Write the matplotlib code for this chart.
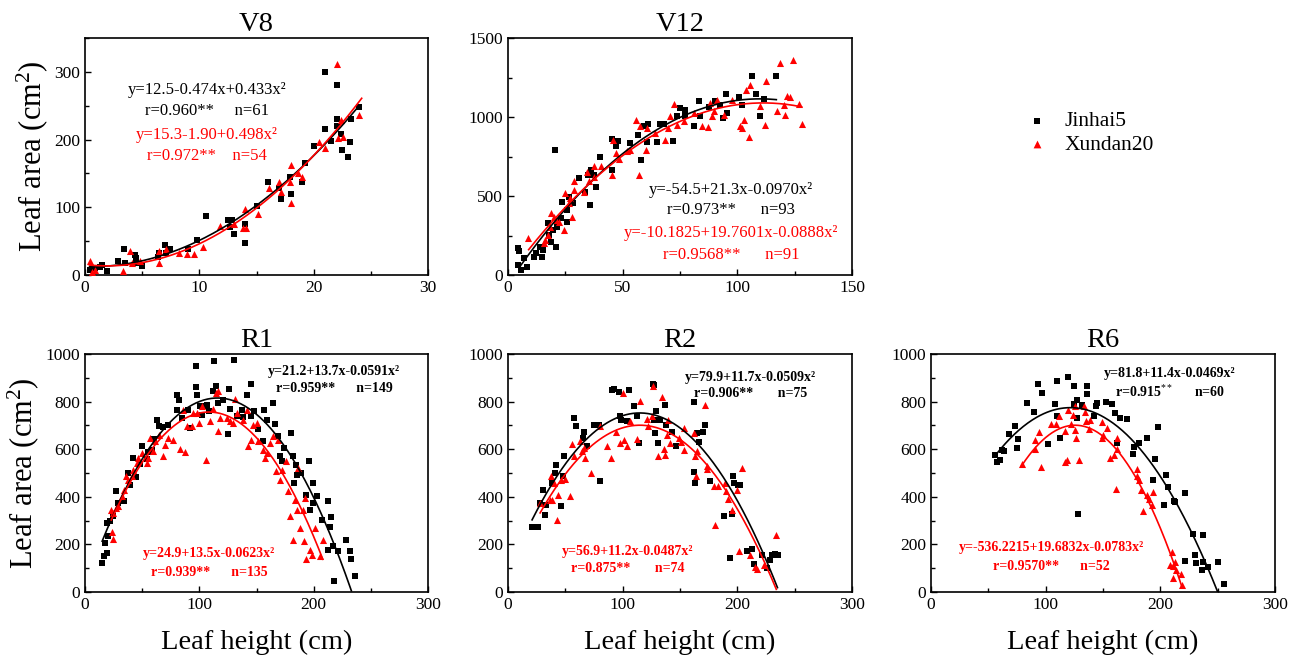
import matplotlib

matplotlib.use("Agg")
import matplotlib.pyplot as plt
import numpy as np
from matplotlib.ticker import MultipleLocator

plt.rcParams["font.family"] = ["Liberation Serif", "DejaVu Serif"]
plt.rcParams["mathtext.fontset"] = "custom"
plt.rcParams["mathtext.rm"] = "Liberation Serif"
plt.rcParams["mathtext.it"] = "Liberation Serif:italic"
plt.rcParams["mathtext.bf"] = "Liberation Serif:bold"

# ---- V8 (leaf height in cm, leaf area in cm2) ----
v8_jin_x = [0.4, 0.9, 1.3, 1.5, 1.9, 2.9, 3.4, 3.5, 4.4, 4.5, 4.5, 5.0, 6.4, 6.5, 7.0, 7.1,
            7.4, 9.0, 9.8, 10.6, 12.5, 12.7, 12.9, 13.0, 14.0, 14.0, 15.0, 16.0, 17.0, 17.1,
            17.9, 18.0, 19.0, 19.2, 20.0, 21.0, 21.0, 21.5, 22.0, 22.0, 22.0, 22.4, 22.5,
            23.0, 23.2, 23.3, 24.0]
v8_jin_y = [7, 10, 12, 15, 6, 20, 39, 17, 30, 25, 17, 14, 27, 32, 44, 32,
            39, 39, 52, 87, 81, 71, 81, 61, 76, 47, 102, 138, 128, 112,
            145, 120, 137, 166, 191, 300, 216, 198, 231, 220, 280, 208, 185,
            175, 197, 231, 248]
v8_xun_x = [0.4, 0.6, 0.9, 3.3, 3.9, 4.1, 4.8, 6.5, 6.5, 7.1, 8.2, 8.9, 9.5, 10.3, 11.8,
            13.0, 13.8, 14.0, 14.1, 15.1, 16.1, 17.0, 17.1, 18.0, 17.9, 18.0, 18.6, 19.0,
            20.5, 21.0, 22.0, 22.1, 22.4, 22.6, 24.0]
v8_xun_y = [20, 5, 8, 6, 36, 17, 21, 36, 17, 39, 32, 31, 31, 41, 73,
            75, 70, 97, 69, 90, 128, 138, 123, 163, 138, 106, 150, 145,
            197, 187, 311, 203, 229, 204, 236]

# ---- V12 ----
v12_jin_x = [4.2, 4.4, 4.7, 5.7, 6.8, 8.3, 11.2, 12.4, 14.1, 14.8, 15.3, 17.3, 18.0, 18.8,
             19.5, 20.3, 20.9, 21.4, 23.1, 23.5, 25.7, 25.7, 26.5, 28.2, 30.8, 33.7, 34.7,
             35.9, 36.2, 37.4, 38.5, 40.0, 45.3, 45.3, 47.2, 47.9, 53.0, 56.5, 58.0, 59.2,
             60.6, 60.9, 65.0, 66.4, 67.9, 71.9, 73.7, 74.8, 77.3, 77.3, 81.0, 83.1, 83.6,
             87.5, 90.4, 92.6, 93.8, 95.2, 95.5, 100.6, 102.0, 106.4, 108.3, 109.7, 111.5,
             117.0]
v12_jin_y = [63, 169, 154, 32, 106, 53, 116, 137, 180, 116, 158, 332, 254, 211,
             285, 792, 180, 306, 359, 465, 338, 412, 496, 454, 613, 528, 634,
             444, 666, 634, 560, 744, 666, 860, 818, 849, 835, 888, 729, 944,
             839, 957, 839, 957, 957, 851, 1004, 1056, 1046, 1004, 940, 1099, 1004,
             1063, 1099, 1078, 993, 1145, 1025, 1126, 1078, 1261, 1147, 1004, 1113,
             1257]
v12_xun_x = [8.6, 15.6, 16.3, 17.3, 18.2, 18.8, 19.9, 21.1, 22.1, 24.3, 25.0, 26.5, 27.2,
             27.9, 28.6, 28.9, 33.0, 34.4, 35.2, 37.4, 37.6, 40.7, 45.3, 45.8, 47.2, 48.3,
             51.9, 53.0, 55.8, 57.3, 57.7, 60.3, 60.6, 64.2, 68.6, 69.6, 70.8, 72.2, 73.7,
             76.6, 81.0, 84.6, 87.1, 88.2, 88.9, 89.7, 91.1, 94.0, 97.7, 101.3, 102.0,
             102.8, 103.9, 104.9, 105.4, 110.0, 112.2, 112.6, 117.3, 118.5, 120.5, 120.9,
             121.7, 122.8, 124.3, 126.7, 128.2]
v12_xun_y = [232, 201, 222, 254, 306, 391, 370, 349, 338, 285, 518, 454, 486,
             370, 592, 539, 528, 655, 592, 687, 623, 687, 634, 856, 771, 733,
             782, 792, 978, 634, 940, 792, 930, 898, 856, 930, 1004, 1084, 951,
             972, 1025, 944, 936, 1088, 1004, 1035, 1109, 1014, 1105, 940, 930,
             982, 1173, 873, 1204, 1067, 951, 1225, 1035, 1342, 1078, 1014,
             1130, 1126, 1359, 1084, 957]

# ---- R1 ----
r1_jin_x = [14.6, 16.6, 19.5, 17.5, 18.9, 20.4, 21.8, 24.8, 27.1, 29.1, 34.1, 37.9, 39.3,
            42.2, 44.6, 48.1, 49.5, 53.9, 55.3, 58.3, 60.3, 62.6, 64.9, 68.5, 72.8, 80.1,
            80.7, 82.4, 84.5, 90.3, 91.8, 96.7, 97.0, 98.2, 100.5, 101.9, 104.0, 106.3,
            108.4, 112.1, 112.7, 114.5, 116.5, 120.3, 125.3, 126.1, 126.7, 130.2, 133.1,
            136.9, 141.9, 137.8, 144.8, 145.6, 147.7, 151.5, 155.8, 156.7, 158.8, 164.0,
            166.0, 169.0, 170.4, 171.9, 173.9, 180.6, 182.0, 182.6, 184.4, 185.8, 189.3,
            193.1, 196.0, 197.2, 199.5, 199.5, 203.0, 207.7, 212.6, 214.7, 215.0, 212.6,
            217.0, 217.6, 221.4, 228.7, 232.2, 232.5, 235.9]
r1_jin_y = [122, 153, 164, 206, 290, 234, 297, 318, 423, 374, 381, 500, 451,
            563, 483, 539, 612, 559, 587, 598, 643, 724, 696, 693, 703, 766,
            829, 808, 731, 766, 689, 860, 948, 828, 780, 745, 780, 787,
            759, 843, 969, 867, 794, 808, 665, 854, 769, 976, 738,
            766, 829, 735, 738, 875, 759, 685, 636, 766, 724, 794,
            707, 657, 570, 549, 605, 668, 570, 458, 535, 493, 500,
            409, 549, 346, 458, 374, 405, 301, 381, 273, 315, 178,
            192, 45, 171, 217, 172, 139, 66]
r1_xun_x = [23.3, 24.8, 22.7, 24.8, 27.1, 29.1, 32.0, 34.1, 35.8, 37.9, 40.8, 42.2, 45.1,
            46.6, 49.5, 53.9, 55.3, 56.8, 59.7, 61.2, 64.9, 67.9, 69.9, 72.8, 77.1, 83.0,
            87.4, 85.3, 89.3, 93.2, 94.7, 98.2, 99.9, 101.9, 105.7, 109.2, 111.6, 115.0,
            116.5, 116.5, 117.9, 123.8, 126.7, 129.6, 131.1, 133.1, 138.4, 141.3, 142.7,
            144.8, 147.1, 150.0, 151.5, 155.8, 157.3, 158.8, 161.7, 164.6, 166.9, 169.0,
            170.4, 171.9, 175.6, 177.7, 179.1, 181.5, 183.5, 185.0, 186.4, 187.9, 190.8,
            191.4, 192.2, 193.1, 197.2, 198.9, 201.0, 205.4, 208.2]
r1_xun_y = [251, 223, 346, 332, 353, 360, 402, 430, 486, 472, 486, 514, 542,
            563, 584, 542, 563, 647, 591, 633, 661, 573, 619, 647, 640, 601,
            587, 766, 696, 696, 752, 752, 710, 780, 556, 717, 769, 836,
            843, 675, 731, 731, 717, 710, 811, 752, 724, 766, 612,
            640, 703, 710, 633, 598, 563, 584, 626, 654, 507, 640,
            472, 514, 549, 423, 318, 220, 388, 346, 521, 269, 346,
            213, 395, 139, 178, 157, 269, 150, 220]

# ---- R2 ----
r2_jin_x = [20.9, 26.2, 27.6, 30.5, 32.6, 33.4, 38.4, 41.3, 42.2, 46.5, 48.0, 48.5, 57.8,
            59.6, 65.4, 66.6, 68.9, 74.7, 79.1, 79.9, 90.7, 92.2, 96.5, 98.0, 98.5, 103.8,
            105.8, 109.6, 112.5, 113.9, 126.2, 127.0, 127.6, 128.5, 129.4, 130.8, 132.3,
            136.6, 138.1, 142.7, 146.8, 162.0, 162.5, 162.8, 164.8, 166.3, 170.0, 172.1,
            176.5, 188.0, 193.3, 195.3, 196.2, 197.4, 200.3, 202.6, 208.4, 212.8, 214.2,
            221.5, 225.9, 228.8, 230.2, 233.1, 235.2]
r2_jin_y = [273, 273, 374, 430, 325, 367, 458, 500, 535, 360, 486, 570, 731,
            696, 647, 671, 612, 703, 703, 465, 850, 853, 839, 738, 724, 717,
            847, 780, 738, 626, 875, 871, 724, 668, 759, 626, 724,
            787, 703, 671, 612, 797, 504, 458, 668, 629, 671, 703,
            468, 318, 143, 329, 486, 458, 451, 451, 171, 181, 119,
            157, 101, 136, 157, 160, 157]
r2_xun_x = [28.2, 36.3, 37.8, 38.4, 40.4, 42.7, 43.6, 46.2, 50.0, 53.8, 55.8, 57.8, 62.5,
            64.5, 66.0, 66.9, 72.4, 80.2, 86.3, 89.9, 94.1, 100.0, 98.0, 101.0, 103.8,
            106.7, 112.5, 114.8, 121.2, 121.8, 125.6, 126.5, 130.8, 134.3, 135.8, 137.2,
            138.7, 139.2, 141.6, 148.8, 150.9, 153.2, 153.8, 162.0, 163.4, 164.2, 164.8,
            172.1, 173.8, 173.8, 179.4, 180.8, 182.8, 189.5, 190.4, 191.6, 195.3, 199.7,
            201.2, 204.1, 210.8, 215.7, 217.2, 223.0, 234.0]
r2_xun_y = [374, 388, 489, 388, 458, 301, 409, 472, 475, 405, 623, 570, 633,
            591, 605, 563, 500, 696, 612, 563, 671, 836, 626, 637, 615,
            717, 643, 801, 727, 696, 738, 867, 570, 819, 601, 577,
            661, 721, 626, 647, 629, 595, 689, 668, 570, 489, 591,
            787, 531, 517, 444, 283, 444, 458, 423, 391, 343, 427,
            171, 521, 157, 105, 97, 115, 241]

# ---- R6 ----
r6_jin_x = [56.1, 57.5, 59.8, 61.9, 63.3, 67.7, 73.5, 75.0, 75.6, 83.6, 89.5, 92.9, 96.7,
            101.7, 108.3, 109.8, 109.8, 112.7, 119.1, 124.3, 124.9, 127.2, 127.2, 127.8,
            131.7, 135.9, 135.9, 142.3, 144.1, 145.2, 152.8, 157.7, 160.6, 162.1, 164.4,
            170.8, 176.0, 176.6, 181.8, 188.8, 193.4, 195.5, 198.4, 205.0, 203.3, 207.1,
            212.0, 212.9, 221.6, 221.6, 228.3, 230.3, 231.2, 237.6, 237.6, 236.1, 242.0,
            250.7, 255.6]
r6_jin_y = [574, 545, 553, 595, 591, 665, 696, 606, 643, 794, 756, 875, 836,
            623, 791, 885, 738, 647, 902, 867, 790, 808, 731, 328,
            787, 864, 833, 741, 780, 794, 798, 790, 752, 626, 731,
            727, 581, 608, 626, 647, 469, 559, 693, 493, 367, 441,
            381, 377, 416, 129, 245, 157, 122, 241, 125, 91, 105,
            125, 35]
r6_xun_x = [79.3, 91.0, 91.0, 93.8, 95.7, 104.6, 109.2, 111.2, 117.0, 118.5, 117.0, 119.9,
            121.9, 123.6, 125.7, 125.7, 126.5, 129.5, 133.6, 134.4, 135.3, 137.4, 138.8,
            148.9, 148.9, 149.9, 153.4, 155.7, 159.2, 161.5, 162.6, 162.6, 179.5, 179.5,
            181.0, 182.9, 184.7, 188.8, 190.5, 192.6, 193.4, 210.0, 208.5, 211.4, 210.8,
            213.8, 217.8, 218.7, 213.0]
r6_xun_y = [539, 601, 640, 671, 525, 706, 706, 741, 545, 556, 675, 766,
            707, 745, 780, 679, 647, 553, 780, 755, 717, 685, 721,
            713, 647, 661, 689, 563, 577, 433, 647, 601, 517, 486,
            472, 427, 339, 409, 391, 367, 419, 167, 115, 108, 59,
            94, 77, 31, 125]

# fitted quadratics (a, b, c) and x range of each drawn curve
panels = [
    dict(name="V8", jx=v8_jin_x, jy=v8_jin_y, rx=v8_xun_x, ry=v8_xun_y,
         jfit=(12.5, -0.474, 0.433), jrange=(0.4, 24.0),
         rfit=(15.3, -1.90, 0.498), rrange=(0.4, 24.2),
         xlim=(0, 30), ylim=(0, 350), xmaj=10, xmin=5, ymaj=100, ymin=50,
         jtxt=["y=12.5-0.474x+0.433x²", "r=0.960**     n=61"],
         rtxt=["y=15.3-1.90+0.498x²", "r=0.972**    n=54"],
         jpos=(0.355, 0.78, 0.69), rpos=(0.355, 0.59, 0.50), bold=False),
    dict(name="V12", jx=v12_jin_x, jy=v12_jin_y, rx=v12_xun_x, ry=v12_xun_y,
         jfit=(-54.5, 21.3, -0.0970), jrange=(5.0, 117.0),
         rfit=(-10.1825, 19.7601, -0.0888), rrange=(9.0, 128.0),
         xlim=(0, 150), ylim=(0, 1500), xmaj=50, xmin=25, ymaj=500, ymin=250,
         jtxt=["y=-54.5+21.3x-0.0970x²", "r=0.973**      n=93"],
         rtxt=["y=-10.1825+19.7601x-0.0888x²", "r=0.9568**      n=91"],
         jpos=(0.648, 0.36, 0.275), rpos=(0.648, 0.177, 0.084), bold=False),
    dict(name="R1", jx=r1_jin_x, jy=r1_jin_y, rx=r1_xun_x, ry=r1_xun_y,
         jfit=(21.2, 13.7, -0.0591), jrange=(15.0, 233.0),
         rfit=(24.9, 13.5, -0.0623), rrange=(23.0, 208.0),
         xlim=(0, 300), ylim=(0, 1000), xmaj=100, xmin=50, ymaj=200, ymin=100,
         jtxt=["y=21.2+13.7x-0.0591x²", "r=0.959**      n=149"],
         rtxt=["y=24.9+13.5x-0.0623x²", "r=0.939**      n=135"],
         jpos=(0.726, 0.925, 0.853), rpos=(0.362, 0.16, 0.084), bold=True),
    dict(name="R2", jx=r2_jin_x, jy=r2_jin_y, rx=r2_xun_x, ry=r2_xun_y,
         jfit=(79.9, 11.7, -0.0509), jrange=(21.0, 235.0),
         rfit=(56.9, 11.2, -0.0487), rrange=(28.0, 234.0),
         xlim=(0, 300), ylim=(0, 1000), xmaj=100, xmin=50, ymaj=200, ymin=100,
         jtxt=["y=79.9+11.7x-0.0509x²", "r=0.906**       n=75"],
         rtxt=["y=56.9+11.2x-0.0487x²", "r=0.875**       n=74"],
         jpos=(0.706, 0.903, 0.832), rpos=(0.347, 0.172, 0.097), bold=True),
    dict(name="R6", jx=r6_jin_x, jy=r6_jin_y, rx=r6_xun_x, ry=r6_xun_y,
         jfit=(81.8, 11.4, -0.0469), jrange=(57.0, 252.0),
         rfit=(-536.2215, 19.6832, -0.0783), rrange=(79.0, 219.0),
         xlim=(0, 300), ylim=(0, 1000), xmaj=100, xmin=50, ymaj=200, ymin=100,
         jtxt=["y=81.8+11.4x-0.0469x²", r"r=0.915$^{**}$      n=60"],
         rtxt=["y=-536.2215+19.6832x-0.0783x²", "r=0.9570**      n=52"],
         jpos=(0.695, 0.92, 0.84), rpos=(0.35, 0.189, 0.109), bold=True),
]

W, H = 1301, 658
boxes = {  # left, top, right, bottom in pixels
    "V8": (85, 38, 428, 275),
    "V12": (508, 38, 852, 275),
    "R1": (85, 354, 428, 592),
    "R2": (508, 354, 852, 592),
    "R6": (931, 354, 1275, 592),
}

fig = plt.figure(figsize=(W / 100, H / 100), dpi=100)

for p in panels:
    l, t, r, b = boxes[p["name"]]
    ax = fig.add_axes([l / W, 1 - b / H, (r - l) / W, (b - t) / H])
    ax.scatter(p["jx"], p["jy"], marker="s", s=17, color="black", lw=0, zorder=3,
               label="Jinhai5")
    ax.scatter(p["rx"], p["ry"], marker="^", s=26, color="red", lw=0, zorder=3,
               label="Xundan20")
    for fit, xr, col in [(p["jfit"], p["jrange"], "black"), (p["rfit"], p["rrange"], "red")]:
        xs = np.linspace(xr[0], xr[1], 200)
        ax.plot(xs, fit[0] + fit[1] * xs + fit[2] * xs ** 2, color=col, lw=1.2, zorder=4)

    ax.set_xlim(*p["xlim"])
    ax.set_ylim(*p["ylim"])
    ax.xaxis.set_major_locator(MultipleLocator(p["xmaj"]))
    ax.xaxis.set_minor_locator(MultipleLocator(p["xmin"]))
    ax.yaxis.set_major_locator(MultipleLocator(p["ymaj"]))
    ax.yaxis.set_minor_locator(MultipleLocator(p["ymin"]))
    ax.tick_params(which="major", direction="in", length=4, width=1, labelsize=12.5)
    ax.tick_params(which="minor", direction="in", length=3, width=1)
    for s in ax.spines.values():
        s.set_linewidth(1.2)
    ax.set_title(p["name"], fontsize=20.5, pad=5)

    fs = 10 if p["bold"] else 12
    fw = "bold" if p["bold"] else "normal"
    x0, y1, y2 = p["jpos"]
    ax.text(x0, y1, p["jtxt"][0], transform=ax.transAxes, ha="center", va="center",
            fontsize=fs, fontweight=fw, color="black")
    ax.text(x0, y2, p["jtxt"][1], transform=ax.transAxes, ha="center", va="center",
            fontsize=fs, fontweight=fw, color="black")
    x0, y1, y2 = p["rpos"]
    ax.text(x0, y1, p["rtxt"][0], transform=ax.transAxes, ha="center", va="center",
            fontsize=fs, fontweight=fw, color="red")
    ax.text(x0, y2, p["rtxt"][1], transform=ax.transAxes, ha="center", va="center",
            fontsize=fs, fontweight=fw, color="red")

    if p["name"] in ("V8", "R1"):
        ax.set_ylabel(r"Leaf area (cm$^2$)", fontsize=22, labelpad=3)
    if p["name"].startswith("R"):
        ax.set_xlabel("Leaf height (cm)", fontsize=20.5, labelpad=12)

    if p["name"] == "V8":
        handles, labels = ax.get_legend_handles_labels()

fig.legend(handles, labels, loc="upper left", bbox_to_anchor=(996 / W, 1 - 92 / H),
           frameon=False, fontsize=15.5, handletextpad=0.3, labelspacing=0.15,
           markerscale=1.1)

fig.savefig("out.png", dpi=100)
